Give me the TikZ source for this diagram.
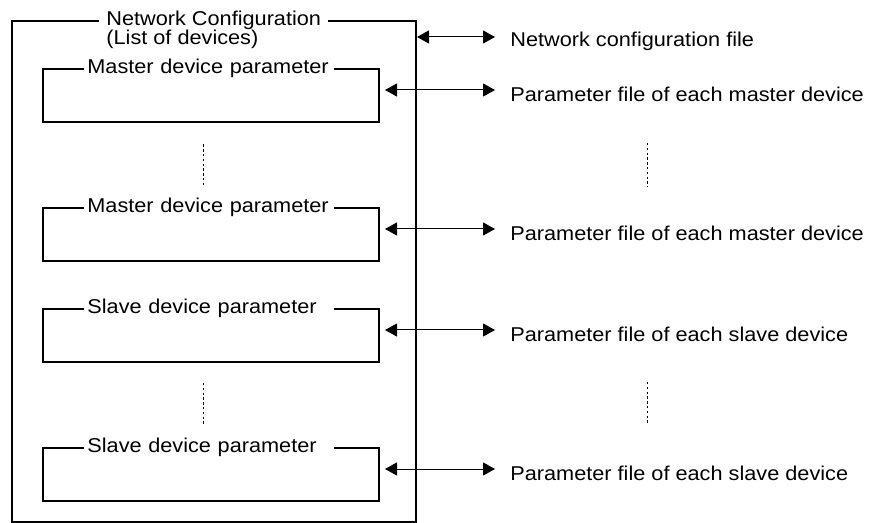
\documentclass[tikz,border=0pt]{standalone}
\usepackage{fontspec}
\setmainfont{Liberation Sans}[FakeStretch=1.085]
\usetikzlibrary{arrows.meta, positioning}

\begin{document}
\begin{tikzpicture}[x=0.5pt, y=-0.5pt,
  every node/.style={font=\fontsize{10pt}{12pt}\selectfont},
  devbox/.style={draw, line width=1pt, minimum width=168pt, minimum height=26.5pt, inner sep=0pt},
  boxtitle/.style={fill=white, anchor=west, inner xsep=1.5pt, inner ysep=0pt, text width=122pt, align=left},
  filetext/.style={anchor=west, inner sep=0pt},
  link/.style={{Triangle[length=6pt,width=6.5pt]}-{Triangle[length=6pt,width=6.5pt]}, line width=0.5pt},
  dots/.style={line width=0.4pt, dash pattern=on 1.2pt off 1.2pt}]
\useasboundingbox (0,0) rectangle (877,523);
% outer box
\node[draw, line width=1pt, minimum width=202pt, minimum height=250.5pt, inner sep=0pt] (net) at (214,271.5) {};
\node[fill=white, anchor=west, inner xsep=3.5pt, inner ysep=0pt] (title) at ([xshift=44pt]net.north west) {Network Configuration};
\node[anchor=north west, inner sep=0pt] (list) at ([xshift=3.5pt]title.south west) {(List of devices)};
% device boxes
\node[devbox] (m1) at (211,96) {};
\node[devbox] (m2) at (211,234.5) {};
\node[devbox] (s1) at (211,335.5) {};
\node[devbox] (s2) at (211,474.5) {};
\node[boxtitle] (m1t) at ([xshift=21pt]m1.north west) {Master device parameter};
\node[boxtitle] (m2t) at ([xshift=21pt]m2.north west) {Master device parameter};
\node[boxtitle] (s1t) at ([xshift=21pt]s1.north west) {Slave device parameter};
\node[boxtitle] (s2t) at ([xshift=21pt]s2.north west) {Slave device parameter};
% files
\node[filetext] (f0) at (510,41) {Network configuration file};
\node[filetext] (f1) at (510,94) {Parameter file of each master device};
\node[filetext] (f2) at (510,233) {Parameter file of each master device};
\node[filetext] (f3) at (510,334) {Parameter file of each slave device};
\node[filetext] (f4) at (510,473) {Parameter file of each slave device};
\foreach \f/\b/\s in {f0/net/0pt, f1/m1/2.5pt, f2/m2/2.5pt, f3/s1/2.5pt, f4/s2/2.5pt}
  \draw[link, shorten <=\s, shorten >=7.5pt] ([yshift=2pt]\f.west -| \b.east) -- ([yshift=2pt]\f.west);
% ellipsis marks
\draw[dots, shorten <=10.5pt, shorten >=10.5pt] ([xshift=-4pt]m1.south) -- ([xshift=-4pt]m2.north);
\draw[dots, shorten <=10pt, shorten >=11.5pt] ([xshift=-4pt]s1.south) -- ([xshift=-4pt]s2.north);
\draw[dots] (647,143) -- (647,187);
\draw[dots] (647,382) -- (647,425);
\end{tikzpicture}
\end{document}
